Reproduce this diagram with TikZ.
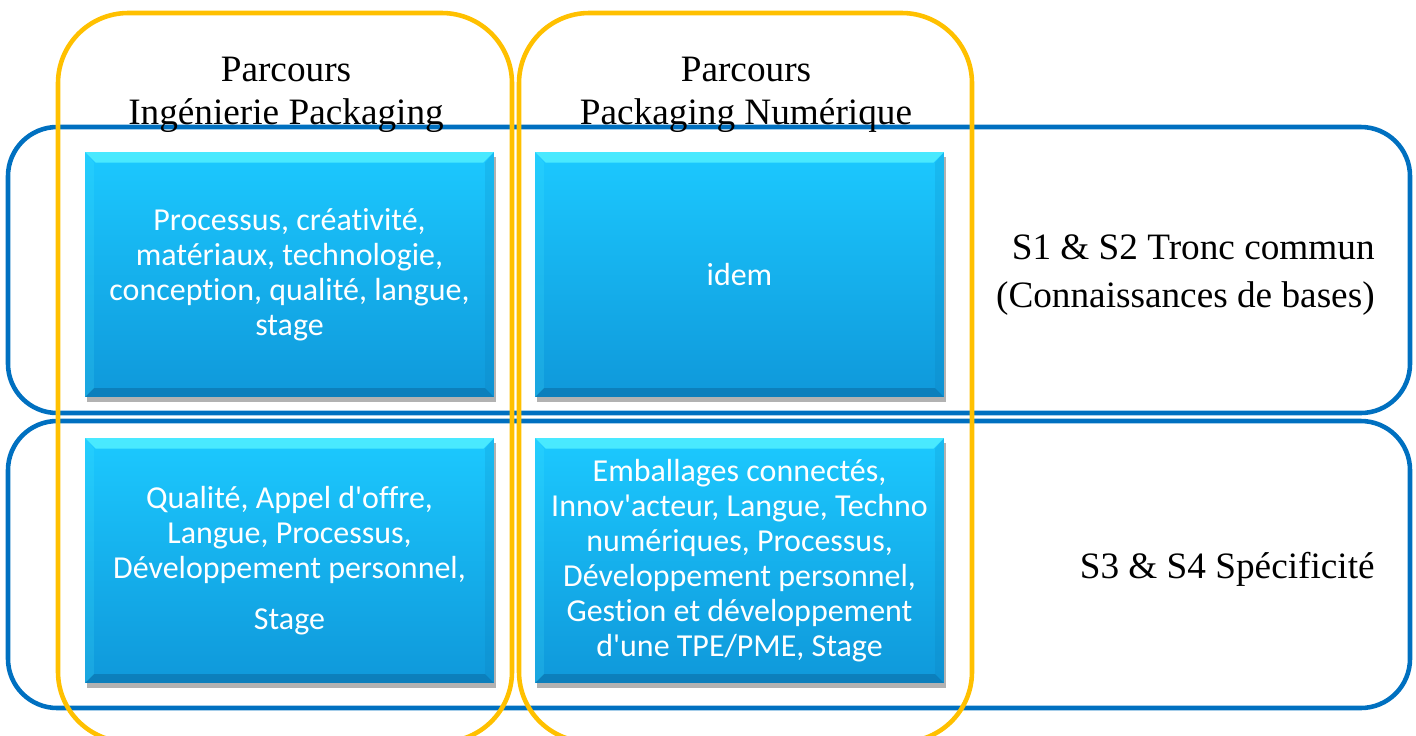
\documentclass[tikz,border=0pt]{standalone}
\usepackage{fontspec}
\setmainfont{Liberation Serif}
\newfontfamily\modfont[Ligatures={NoCommon}]{Carlito}
\usetikzlibrary{shadows}
\definecolor{semblue}{HTML}{0070C0}
\definecolor{parcyellow}{HTML}{FFC000}
\definecolor{modtop}{HTML}{1CC9FF}
\definecolor{modbot}{HTML}{0F98DA}
\definecolor{modlight}{HTML}{55F2FF}
\definecolor{moddark}{HTML}{0A6FA8}

\begin{document}
\begin{tikzpicture}[x=0.02cm,y=-0.02cm,
  semestre/.style={draw=semblue,line width=2.6pt,rounded corners=28pt},
  parcours/.style={draw=parcyellow,line width=2.6pt,rounded corners=40pt},
  titre/.style={font=\fontsize{21.2}{24.5}\selectfont,align=center,inner sep=0pt},
  module/.style={rectangle,minimum width=8.18cm,minimum height=4.9cm,inner sep=0pt,
    top color=modtop,bottom color=modbot,text=white,align=center,
    font=\modfont\fontsize{18.2}{20}\selectfont,
    drop shadow={shadow xshift=1pt,shadow yshift=-3pt,opacity=0.3,fill=black},
    path picture={
      \fill[modlight,opacity=0.8] (path picture bounding box.north west) -- (path picture bounding box.north east)
        -- ([xshift=-6pt,yshift=-6pt]path picture bounding box.north east) -- ([xshift=6pt,yshift=-6pt]path picture bounding box.north west) -- cycle;
      \fill[moddark,opacity=0.6] (path picture bounding box.south west) -- (path picture bounding box.south east)
        -- ([xshift=-5pt,yshift=5pt]path picture bounding box.south east) -- ([xshift=5pt,yshift=5pt]path picture bounding box.south west) -- cycle;
      \fill[moddark,opacity=0.15] (path picture bounding box.south east) -- (path picture bounding box.north east)
        -- ([xshift=-5pt,yshift=-6pt]path picture bounding box.north east) -- ([xshift=-5pt,yshift=5pt]path picture bounding box.south east) -- cycle;
      \fill[modlight,opacity=0.15] (path picture bounding box.south west) -- (path picture bounding box.north west)
        -- ([xshift=5pt,yshift=-6pt]path picture bounding box.north west) -- ([xshift=5pt,yshift=5pt]path picture bounding box.south west) -- cycle;
    }}]
  \path[use as bounding box] (0,0) rectangle (1416,735);
  \clip (0,0) rectangle (1416,735);
  \draw[semestre] (8,127) rectangle (1410,413);
  \draw[semestre] (8,421) rectangle (1410,708);
  \draw[parcours] (58,13) rectangle (512,742);
  \draw[parcours] (519,13) rectangle (972,742);
  \node[titre] (ingtitre) at (286,95) {Parcours\\Ingénierie Packaging};
  \node[titre] (numtitre) at (746,95) {Parcours\\Packaging Numérique};
  \node[module] (ing12) at (289.5,274.5) {Processus, créativité,\\matériaux, technologie,\\conception, qualité, langue,\\stage};
  \node[module] (num12) at (739.5,274.5) {idem};
  \node[module] (ing34) at (289.5,560.5) {Qualité, Appel d'offre,\\Langue, Processus,\\Développement personnel,\\[9pt]Stage};
  \node[module] (num34) at (739.5,560.5) {Emballages connectés,\\Innov'acteur, Langue, Techno\\numériques, Processus,\\Développement personnel,\\Gestion et développement\\d'une TPE/PME, Stage};
  \node[titre,align=right,anchor=east,font=\fontsize{21.2}{27.5}\selectfont] (s12) at (1375,275) {S1 \& S2 Tronc commun\\(Connaissances de bases)};
  \node[titre,align=right,anchor=east] (s34) at (1375,569) {S3 \& S4 Spécificité};
\end{tikzpicture}
\end{document}
